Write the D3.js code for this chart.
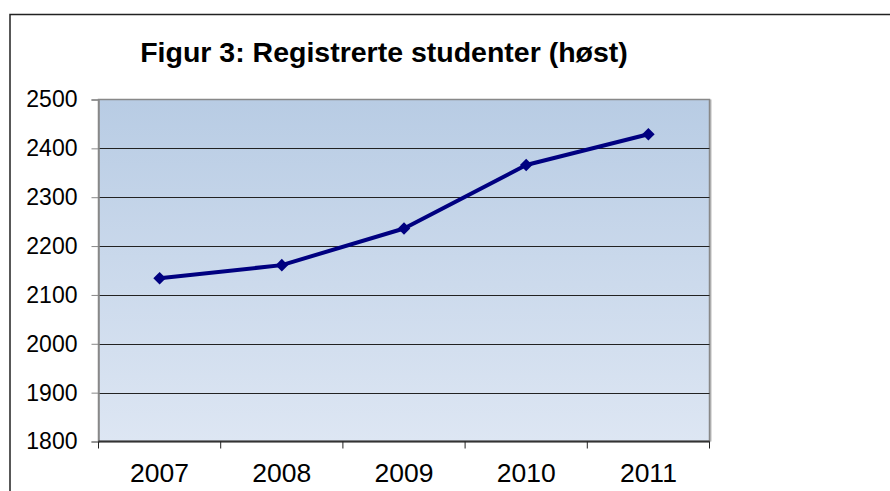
<!DOCTYPE html>
<html>
<head>
<meta charset="utf-8">
<script src="https://cdn.jsdelivr.net/npm/d3@7"></script>
<style>
  html, body { margin: 0; padding: 0; background: #fff; }
  svg { display: block; font-family: Arial, "Liberation Sans", sans-serif; }
</style>
</head>
<body>
<svg id="chart" width="890" height="491"></svg>
<script>
const years = ['2007', '2008', '2009', '2010', '2011'];
const students = [2134, 2161, 2236, 2366, 2429];
const yTicks = [1800, 1900, 2000, 2100, 2200, 2300, 2400, 2500];
const title = 'Figur 3: Registrerte studenter (høst)';

const chart = d3.select('#chart');
const plotLeft = 98.5;
const plotRight = 709.5;
const plotTop = 99.5;
const plotBottom = 441.5;

const x = d3.scaleBand()
  .domain(years)
  .range([plotLeft, plotRight]);

const y = d3.scaleLinear()
  .domain([1800, 2500])
  .range([plotBottom, plotTop]);

/* outer frame */
chart.append('path')
  .attr('d', `M 10 491 L 10 14.5 L 890 14.5`)
  .attr('fill', 'none')
  .attr('stroke', '#222')
  .attr('stroke-width', 1.5);

/* title */
chart.append('text')
  .attr('x', 384)
  .attr('y', 62)
  .attr('text-anchor', 'middle')
  .attr('font-size', 28.5)
  .attr('font-weight', 'bold')
  .text(title);

/* plot background */
const grad = chart.append('defs').append('linearGradient')
  .attr('id', 'bg')
  .attr('x1', 0).attr('y1', 0)
  .attr('x2', 0).attr('y2', 1);
grad.append('stop').attr('offset', '0%').attr('stop-color', '#b8cce4');
grad.append('stop').attr('offset', '100%').attr('stop-color', '#dde6f3');

chart.append('rect')
  .attr('x', plotLeft + 1)
  .attr('y', plotTop)
  .attr('width', plotRight - plotLeft + 1)
  .attr('height', plotBottom - plotTop)
  .attr('fill', '#bbb');

chart.append('rect')
  .attr('x', plotLeft)
  .attr('y', plotTop)
  .attr('width', plotRight - plotLeft)
  .attr('height', plotBottom - plotTop)
  .attr('fill', 'url(#bg)')
  .attr('stroke', '#888')
  .attr('stroke-width', 1.5);

/* gridlines */
chart.append('g')
  .selectAll('line')
  .data(yTicks.slice(1, -1))
  .join('line')
  .attr('x1', plotLeft)
  .attr('x2', plotRight)
  .attr('y1', d => Math.round(y(d)) + 0.5)
  .attr('y2', d => Math.round(y(d)) + 0.5)
  .attr('stroke', '#222')
  .attr('stroke-width', 1);

/* y axis */
const yAxis = chart.append('g')
  .attr('transform', `translate(${plotLeft},0)`)
  .call(d3.axisLeft(y).tickValues(yTicks).tickSize(7).tickPadding(14).tickFormat(d3.format('d')));
yAxis.select('.domain').attr('stroke', '#888').attr('stroke-width', 1.5);
yAxis.selectAll('.tick line').attr('stroke', '#888');
yAxis.selectAll('.tick text')
  .attr('font-size', 23)
  .attr('font-family', 'Arial, "Liberation Sans", sans-serif')
  .attr('fill', '#000');

/* x axis */
const xAxis = chart.append('g')
  .attr('transform', `translate(0,${plotBottom})`);
xAxis.append('line')
  .attr('x1', plotLeft)
  .attr('x2', plotRight)
  .attr('stroke', '#333')
  .attr('stroke-width', 2);
xAxis.selectAll('.xtick')
  .data(years.concat(['end']))
  .join('line')
  .attr('class', 'xtick')
  .attr('x1', (d, i) => i < years.length ? x(d) : plotRight)
  .attr('x2', (d, i) => i < years.length ? x(d) : plotRight)
  .attr('y1', 0)
  .attr('y2', 7)
  .attr('stroke', '#222')
  .attr('stroke-width', 1);
xAxis.selectAll('.xlabel')
  .data(years)
  .join('text')
  .attr('class', 'xlabel')
  .attr('x', d => x(d) + x.bandwidth() / 2)
  .attr('y', 40)
  .attr('text-anchor', 'middle')
  .attr('font-size', 26.5)
  .text(d => d);

/* line */
const line = d3.line()
  .x((d, i) => x(years[i]) + x.bandwidth() / 2)
  .y(d => y(d));

chart.append('path')
  .datum(students)
  .attr('d', line)
  .attr('fill', 'none')
  .attr('stroke', '#000080')
  .attr('stroke-width', 4)
  .attr('stroke-linejoin', 'round');

/* markers */
chart.append('g')
  .selectAll('path')
  .data(students)
  .join('path')
  .attr('d', d3.symbol(d3.symbolDiamond2, 100))
  .attr('transform', (d, i) => `translate(${x(years[i]) + x.bandwidth() / 2},${y(d)})`)
  .attr('fill', '#000080');
</script>
</body>
</html>
